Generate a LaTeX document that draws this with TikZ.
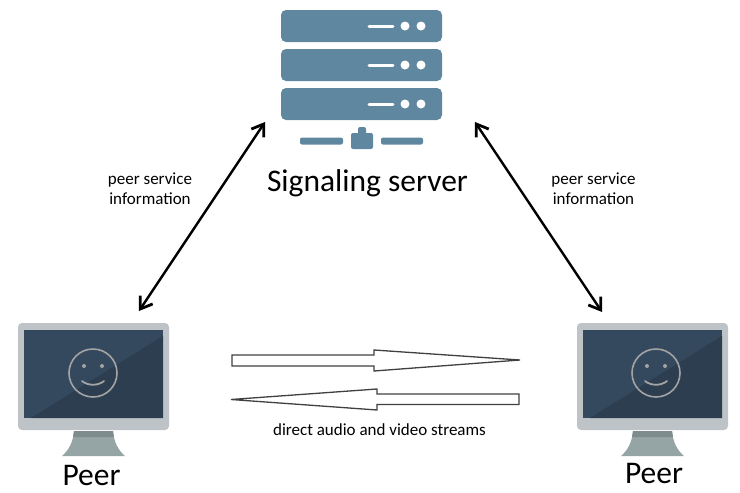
\documentclass[tikz,border=0pt]{standalone}
\usepackage{fontspec}
\setmainfont{Carlito}
\usetikzlibrary{arrows.meta}
\definecolor{rackblue}{HTML}{5F879F}
\definecolor{bezel}{HTML}{BDC3C7}
\definecolor{screenlight}{HTML}{34495E}
\definecolor{screendark}{HTML}{2C3E50}
\definecolor{standlight}{HTML}{95A5A6}
\definecolor{standdark}{HTML}{7F8C8D}
\definecolor{smileline}{HTML}{A3A3A3}
\tikzset{
  rack/.style={fill=rackblue,rounded corners=5},
  link/.style={line width=2.4pt,{Straight Barb[length=11pt,width=15pt,line width=2.8pt]}-{Straight Barb[length=11pt,width=15pt,line width=2.8pt]}},
  stream/.style={draw=black!75,line width=1.3pt,fill=white,line join=miter},
  smalltext/.style={font=\fontsize{17}{20}\selectfont,align=center},
  bigtext/.style={font=\fontsize{31.5}{36}\selectfont}
}
\newcommand{\monitor}[2]{%
\begin{scope}[shift={(#1,0)}]
\fill[bezel,rounded corners=4] (18,323) rectangle (169,430);
\fill[screenlight] (24,330) rectangle (163,418);
\fill[screendark] (31,418)--(163,336)--(163,418)--cycle;
\fill[standlight] (74,431)--(113,431) .. controls (114,442) and (118,450) .. (125,456)--(62,456) .. controls (69,450) and (73,442) .. (74,431)--cycle;
\fill[standdark] (74,431)--(113,431)--(114,437)--(73,437)--cycle;
\draw[smileline,line width=1.6pt] (#2,373) circle (24);
\fill[smileline] (#2-9,366) circle (2) (#2+9,366) circle (2);
\draw[smileline,line width=1.8pt] (#2-11,381) .. controls (#2-5,386) and (#2+5,386) .. (#2+11,381);
\end{scope}
}
\begin{document}
\begin{tikzpicture}[line cap=round,line join=round,>=stealth,x=1pt,y=-1pt]
\useasboundingbox (0,0) rectangle (740,493);
% server
\foreach \y in {10,49,88}{
\fill[rack] (281,\y) rectangle (442,\y+32);
\draw[white,line width=3pt] (369,\y+16)--(393,\y+16);
\fill[white] (405,\y+16) circle (4.5) (421,\y+16) circle (4.5);
}
\fill[rackblue,rounded corners=2] (300,137.5) rectangle (343,144.5);
\fill[rackblue,rounded corners=2] (381,137.5) rectangle (423,144.5);
\fill[rackblue,rounded corners=2] (351,133) rectangle (373,149);
\fill[rackblue,rounded corners=2] (358,127) rectangle (366,136);
\node[bigtext] (server) at (367.5,183) {Signaling server};
% peers
\monitor{0}{93}
\monitor{559}{97}
\node[bigtext] (peerleft) at (91.5,475) {Peer};
\node[bigtext] (peerright) at (654,473) {Peer};
% links
\coordinate (serverleft) at (265,122);
\coordinate (serverright) at (475,122);
\coordinate (monitorleft) at (139,311);
\coordinate (monitorright) at (602,312);
\draw[link] (monitorleft)--(serverleft);
\draw[link] (serverright)--(monitorright);
\node[smalltext] (infoleft) at (150,189) {peer service\\information};
\node[smalltext] (inforight) at (593.5,189) {peer service\\information};
% streams
\draw[stream] (232,355)--(374,355)--(374,350)--(520,360)--(374,371)--(374,366)--(232,366)--cycle;
\draw[stream] (231,399.5)--(377,389)--(377,394)--(519,394)--(519,404.5)--(377,404.5)--(377,410)--cycle;
\node[smalltext] (streams) at (379.5,430) {direct audio and video streams};
\end{tikzpicture}
\end{document}
